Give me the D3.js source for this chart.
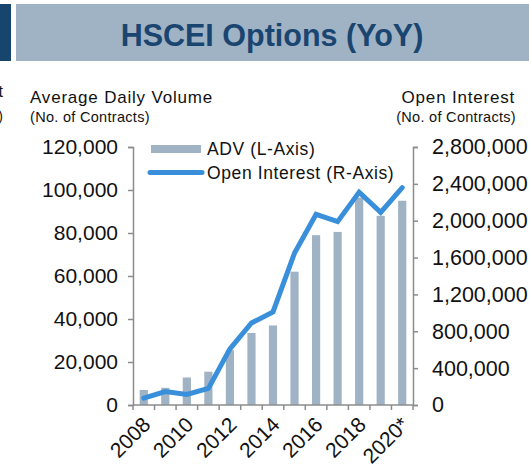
<!DOCTYPE html>
<html>
<head>
<meta charset="utf-8">
<script src="https://cdn.jsdelivr.net/npm/d3@7"></script>
<style>
  body { margin: 0; background: #fff; }
  svg { display: block; font-family: "Liberation Sans", Arial, sans-serif; }
</style>
</head>
<body>
<svg id="chart" width="529" height="467"></svg>
<script>
// Data
const years = ["2008", "2009", "2010", "2011", "2012", "2013", "2014",
               "2015", "2016", "2017", "2018", "2019", "2020*"];
const yearLabels = ["2008", "2010", "2012", "2014", "2016", "2018", "2020*"];
const advValues = [7000, 8000, 12800, 15500, 25500, 33500, 37000,
                   62000, 79000, 80500, 96500, 88000, 95000];
const openInterest = [75000, 145000, 115000, 180000, 610000, 890000, 1010000,
                      1650000, 2070000, 1990000, 2310000, 2090000, 2360000];
const leftTicks = [0, 20000, 40000, 60000, 80000, 100000, 120000];
const rightTicks = [0, 400000, 800000, 1200000, 1600000, 2000000, 2400000, 2800000];

// Layout
const PLOT = {left: 133, right: 413, top: 147, bottom: 405};
const COLORS = {bar: "#a0b3c4", line: "#3a8fdb", axis: "#8c8c8c", title: "#1a4570", banner: "#a0b3c4", block: "#16456e"};

const svg = d3.select("#chart");

// Header banner
svg.append("rect").attr("x", 0).attr("y", 4).attr("width", 11).attr("height", 57).attr("fill", COLORS.block);
svg.append("rect").attr("x", 16).attr("y", 4).attr("width", 513).attr("height", 57).attr("fill", COLORS.banner);
svg.append("text")
  .attr("x", 272).attr("y", 46)
  .attr("text-anchor", "middle")
  .attr("font-size", "30.5px").attr("font-weight", "bold")
  .attr("fill", COLORS.title)
  .text("HSCEI Options (YoY)");

// Scales
const x = d3.scaleBand()
  .domain(years)
  .range([PLOT.left, PLOT.right])
  .paddingInner(0.62)
  .paddingOuter(0.31);

const yLeft = d3.scaleLinear().domain([0, 120000]).range([PLOT.bottom, PLOT.top]);
const yRight = d3.scaleLinear().domain([0, 2800000]).range([PLOT.bottom, PLOT.top]);

// Bars
svg.append("g")
  .selectAll("rect")
  .data(years.map((yr, i) => ({yr, v: advValues[i]})))
  .join("rect")
  .attr("x", d => x(d.yr))
  .attr("y", d => yLeft(d.v))
  .attr("width", x.bandwidth())
  .attr("height", d => yLeft(0) - yLeft(d.v))
  .attr("fill", COLORS.bar);

// Axes
const fmt = d3.format(",");
const styleAxis = g => {
  g.select(".domain").attr("stroke", COLORS.axis).attr("stroke-width", 1.5);
  g.selectAll(".tick line").attr("stroke", COLORS.axis).attr("stroke-width", 1.5);
  g.selectAll("text").attr("fill", "#111").attr("font-family", "Liberation Sans, Arial, sans-serif");
};

svg.append("g")
  .attr("transform", `translate(${PLOT.left},0)`)
  .call(d3.axisLeft(yLeft).tickValues(leftTicks).tickFormat(fmt).tickSize(5).tickPadding(10))
  .call(styleAxis)
  .selectAll("text").attr("font-size", "21px");

svg.append("g")
  .attr("transform", `translate(${PLOT.right},0)`)
  .call(d3.axisRight(yRight).tickValues(rightTicks).tickFormat(fmt).tickSize(5).tickPadding(14))
  .call(styleAxis)
  .selectAll("text").attr("font-size", "21.5px");

// Bottom axis: ticks on band boundaries
const xAxisG = svg.append("g").attr("transform", `translate(0,${PLOT.bottom})`);
xAxisG.append("line")
  .attr("x1", PLOT.left).attr("x2", PLOT.right)
  .attr("stroke", COLORS.axis).attr("stroke-width", 1.5);
const step = x.step();
xAxisG.selectAll(".xtick")
  .data(d3.range(years.length + 1))
  .join("line")
  .attr("class", "xtick")
  .attr("x1", i => PLOT.left + i * step).attr("x2", i => PLOT.left + i * step)
  .attr("y1", 0).attr("y2", 5)
  .attr("stroke", COLORS.axis).attr("stroke-width", 1.5);
xAxisG.selectAll(".xlabel")
  .data(yearLabels)
  .join("text")
  .attr("class", "xlabel")
  .attr("transform", d => `translate(${x(d) + x.bandwidth() / 2 + 8},${21}) rotate(-45)`)
  .attr("text-anchor", "end")
  .attr("font-size", "21px")
  .attr("fill", "#111")
  .text(d => d);

// Open interest line
const line = d3.line()
  .x((d, i) => x(years[i]) + x.bandwidth() / 2)
  .y(d => yRight(d));

svg.append("path")
  .datum(openInterest)
  .attr("d", line)
  .attr("fill", "none")
  .attr("stroke", COLORS.line)
  .attr("stroke-width", 5)
  .attr("stroke-linejoin", "miter")
  .attr("stroke-linecap", "round");

// Axis titles
svg.append("text").attr("x", 30).attr("y", 103).attr("font-size", "17px").attr("letter-spacing", "0.8px").attr("fill", "#111")
  .text("Average Daily Volume");
svg.append("text").attr("x", 30).attr("y", 122).attr("font-size", "14.5px").attr("letter-spacing", "0.3px").attr("fill", "#111")
  .text("(No. of Contracts)");
svg.append("text").attr("x", 515).attr("y", 103).attr("text-anchor", "end").attr("font-size", "17px").attr("letter-spacing", "0.8px").attr("fill", "#111")
  .text("Open Interest");
svg.append("text").attr("x", 516).attr("y", 122).attr("text-anchor", "end").attr("font-size", "14.5px").attr("letter-spacing", "0.3px").attr("fill", "#111")
  .text("(No. of Contracts)");

// Cut-off fragments from the neighbouring panel
svg.append("text").attr("x", 3).attr("y", 97).attr("text-anchor", "end").attr("font-size", "16px").attr("fill", "#111").text("t");
svg.append("text").attr("x", 3).attr("y", 121).attr("text-anchor", "end").attr("font-size", "14px").attr("fill", "#111").text(")");

// Legend
const legend = svg.append("g");
legend.append("rect").attr("x", 151).attr("y", 145).attr("width", 50).attr("height", 8).attr("fill", COLORS.bar);
legend.append("text").attr("x", 207).attr("y", 155).attr("font-size", "17.5px").attr("letter-spacing", "0.6px").attr("fill", "#111").text("ADV (L-Axis)");
legend.append("line").attr("x1", 150).attr("x2", 202).attr("y1", 172.5).attr("y2", 172.5)
  .attr("stroke", COLORS.line).attr("stroke-width", 5).attr("stroke-linecap", "round");
legend.append("text").attr("x", 207).attr("y", 179).attr("font-size", "17.5px").attr("letter-spacing", "0.6px").attr("fill", "#111").text("Open Interest (R-Axis)");
</script>
</body>
</html>
